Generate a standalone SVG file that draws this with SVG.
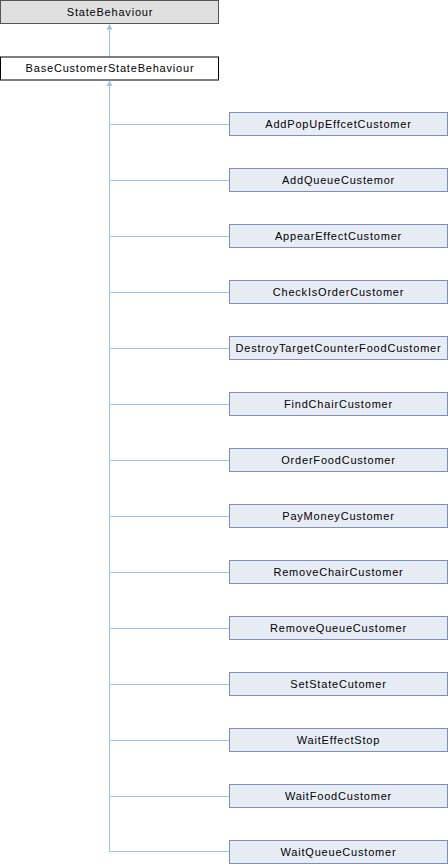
<svg xmlns="http://www.w3.org/2000/svg" width="448" height="864" viewBox="0 0 448 864">
<style>
.t{font-family:"Liberation Sans",Arial,sans-serif;font-size:11px;letter-spacing:0.8px;fill:#000;text-anchor:middle}
.c rect{fill:#e8ecf5;stroke:#7b8ec4;stroke-width:1}
.e{stroke:#8fc8e8;stroke-width:1;fill:none}
.h{fill:#8fc8e8}
</style>
<g id="edges">
<path class="e" d="M109.5,57 L109.5,26"/>
<path class="e" d="M109.5,851.5 L109.5,82"/>
<path class="e" d="M109.5,124.5H229.5M109.5,180.5H229.5M109.5,236.5H229.5M109.5,292.5H229.5M109.5,348.5H229.5M109.5,404.5H229.5M109.5,460.5H229.5M109.5,516.5H229.5M109.5,572.5H229.5M109.5,628.5H229.5M109.5,684.5H229.5M109.5,740.5H229.5M109.5,796.5H229.5M109.5,851.5H229.5"/>
<path class="h" d="M109.5,24 L112.5,29.5 L106.5,29.5 Z"/>
<path class="h" d="M109.5,80.5 L112.5,86 L106.5,86 Z"/>
</g>
<g id="StateBehaviour"><rect x="0.5" y="0.5" width="218" height="23" fill="#e0e0e0" stroke="#555"/><text class="t" x="110" y="15.5">StateBehaviour</text></g>
<g id="BaseCustomerStateBehaviour"><rect x="0.5" y="57" width="218" height="23" fill="#fff" stroke="#000"/><text class="t" x="110" y="72">BaseCustomerStateBehaviour</text></g>
<g class="c">
<g id="n1"><rect x="229.5" y="112.5" width="218" height="23"/><text class="t" x="338.5" y="127.5">AddPopUpEffcetCustomer</text></g>
<g id="n2"><rect x="229.5" y="168.5" width="218" height="23"/><text class="t" x="338.5" y="183.5">AddQueueCustemor</text></g>
<g id="n3"><rect x="229.5" y="224.5" width="218" height="23"/><text class="t" x="338.5" y="239.5">AppearEffectCustomer</text></g>
<g id="n4"><rect x="229.5" y="280.5" width="218" height="23"/><text class="t" x="338.5" y="295.5">CheckIsOrderCustomer</text></g>
<g id="n5"><rect x="229.5" y="336.5" width="218" height="23"/><text class="t" x="338.5" y="351.5">DestroyTargetCounterFoodCustomer</text></g>
<g id="n6"><rect x="229.5" y="392.5" width="218" height="23"/><text class="t" x="338.5" y="407.5">FindChairCustomer</text></g>
<g id="n7"><rect x="229.5" y="448.5" width="218" height="23"/><text class="t" x="338.5" y="463.5">OrderFoodCustomer</text></g>
<g id="n8"><rect x="229.5" y="504.5" width="218" height="23"/><text class="t" x="338.5" y="519.5">PayMoneyCustomer</text></g>
<g id="n9"><rect x="229.5" y="560.5" width="218" height="23"/><text class="t" x="338.5" y="575.5">RemoveChairCustomer</text></g>
<g id="n10"><rect x="229.5" y="616.5" width="218" height="23"/><text class="t" x="338.5" y="631.5">RemoveQueueCustomer</text></g>
<g id="n11"><rect x="229.5" y="672.5" width="218" height="23"/><text class="t" x="338.5" y="687.5">SetStateCutomer</text></g>
<g id="n12"><rect x="229.5" y="728.5" width="218" height="23"/><text class="t" x="338.5" y="743.5">WaitEffectStop</text></g>
<g id="n13"><rect x="229.5" y="784.5" width="218" height="23"/><text class="t" x="338.5" y="799.5">WaitFoodCustomer</text></g>
<g id="n14"><rect x="229.5" y="840.5" width="218" height="23"/><text class="t" x="338.5" y="855.5">WaitQueueCustomer</text></g>
</g>
</svg>
